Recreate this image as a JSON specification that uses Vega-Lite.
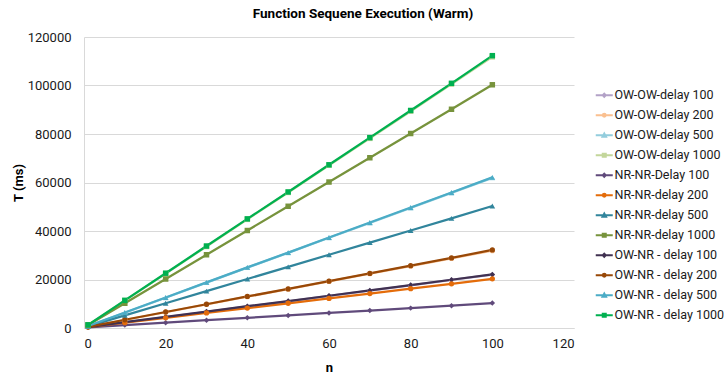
{
  "$schema": "https://vega.github.io/schema/vega-lite/v6.json",
  "width": 490,
  "height": 291,
  "autosize": {"type": "none"},
  "padding": {"left": 84, "top": 37, "right": 152, "bottom": 56},
  "background": "white",
  "title": {"text": "Function Sequene Execution (Warm)", "font": "Roboto", "fontSize": 13.5, "fontWeight": "bold", "color": "#000000", "anchor": "middle", "frame": "group", "dx": 34, "offset": 11},
  "config": {
    "view": {"stroke": null},
    "font": "Roboto",
    "axis": {"labelFont": "Roboto", "labelFontSize": 13, "labelColor": "#1a1a1a", "titleFont": "Roboto", "titleFontSize": 13, "titleFontWeight": "bold", "titleColor": "#000000", "domainColor": "#D9D9D9", "gridColor": "#D9D9D9", "ticks": false},
    "legend": {"labelFont": "Roboto", "labelFontSize": 12.5, "labelColor": "#1a1a1a"}
  },
  "data": {"values": [
    {"series": "OW-OW-delay 100", "n": 1, "T": 350}, {"series": "OW-OW-delay 100", "n": 10, "T": 2300}, {"series": "OW-OW-delay 100", "n": 20, "T": 4500}, {"series": "OW-OW-delay 100", "n": 30, "T": 6700}, {"series": "OW-OW-delay 100", "n": 40, "T": 8900}, {"series": "OW-OW-delay 100", "n": 50, "T": 11000}, {"series": "OW-OW-delay 100", "n": 60, "T": 13200}, {"series": "OW-OW-delay 100", "n": 70, "T": 15400}, {"series": "OW-OW-delay 100", "n": 80, "T": 17600}, {"series": "OW-OW-delay 100", "n": 90, "T": 19800}, {"series": "OW-OW-delay 100", "n": 100, "T": 22000},
    {"series": "OW-OW-delay 200", "n": 1, "T": 450}, {"series": "OW-OW-delay 200", "n": 10, "T": 3300}, {"series": "OW-OW-delay 200", "n": 20, "T": 6500}, {"series": "OW-OW-delay 200", "n": 30, "T": 9700}, {"series": "OW-OW-delay 200", "n": 40, "T": 12900}, {"series": "OW-OW-delay 200", "n": 50, "T": 16000}, {"series": "OW-OW-delay 200", "n": 60, "T": 19200}, {"series": "OW-OW-delay 200", "n": 70, "T": 22400}, {"series": "OW-OW-delay 200", "n": 80, "T": 25500}, {"series": "OW-OW-delay 200", "n": 90, "T": 28700}, {"series": "OW-OW-delay 200", "n": 100, "T": 31900},
    {"series": "OW-OW-delay 500", "n": 1, "T": 750}, {"series": "OW-OW-delay 500", "n": 10, "T": 6300}, {"series": "OW-OW-delay 500", "n": 20, "T": 12500}, {"series": "OW-OW-delay 500", "n": 30, "T": 18700}, {"series": "OW-OW-delay 500", "n": 40, "T": 24900}, {"series": "OW-OW-delay 500", "n": 50, "T": 31000}, {"series": "OW-OW-delay 500", "n": 60, "T": 37200}, {"series": "OW-OW-delay 500", "n": 70, "T": 43300}, {"series": "OW-OW-delay 500", "n": 80, "T": 49500}, {"series": "OW-OW-delay 500", "n": 90, "T": 55700}, {"series": "OW-OW-delay 500", "n": 100, "T": 61900},
    {"series": "OW-OW-delay 1000", "n": 1, "T": 1250}, {"series": "OW-OW-delay 1000", "n": 10, "T": 11300}, {"series": "OW-OW-delay 1000", "n": 20, "T": 22400}, {"series": "OW-OW-delay 1000", "n": 30, "T": 33600}, {"series": "OW-OW-delay 1000", "n": 40, "T": 44800}, {"series": "OW-OW-delay 1000", "n": 50, "T": 55900}, {"series": "OW-OW-delay 1000", "n": 60, "T": 67100}, {"series": "OW-OW-delay 1000", "n": 70, "T": 78200}, {"series": "OW-OW-delay 1000", "n": 80, "T": 89400}, {"series": "OW-OW-delay 1000", "n": 90, "T": 100600}, {"series": "OW-OW-delay 1000", "n": 100, "T": 111800},
    {"series": "NR-NR-Delay 100", "n": 1, "T": 300}, {"series": "NR-NR-Delay 100", "n": 10, "T": 1200}, {"series": "NR-NR-Delay 100", "n": 20, "T": 2200}, {"series": "NR-NR-Delay 100", "n": 30, "T": 3200}, {"series": "NR-NR-Delay 100", "n": 40, "T": 4200}, {"series": "NR-NR-Delay 100", "n": 50, "T": 5200}, {"series": "NR-NR-Delay 100", "n": 60, "T": 6200}, {"series": "NR-NR-Delay 100", "n": 70, "T": 7200}, {"series": "NR-NR-Delay 100", "n": 80, "T": 8200}, {"series": "NR-NR-Delay 100", "n": 90, "T": 9200}, {"series": "NR-NR-Delay 100", "n": 100, "T": 10300},
    {"series": "NR-NR-delay 200", "n": 1, "T": 400}, {"series": "NR-NR-delay 200", "n": 10, "T": 2200}, {"series": "NR-NR-delay 200", "n": 20, "T": 4200}, {"series": "NR-NR-delay 200", "n": 30, "T": 6200}, {"series": "NR-NR-delay 200", "n": 40, "T": 8200}, {"series": "NR-NR-delay 200", "n": 50, "T": 10200}, {"series": "NR-NR-delay 200", "n": 60, "T": 12200}, {"series": "NR-NR-delay 200", "n": 70, "T": 14200}, {"series": "NR-NR-delay 200", "n": 80, "T": 16200}, {"series": "NR-NR-delay 200", "n": 90, "T": 18200}, {"series": "NR-NR-delay 200", "n": 100, "T": 20300},
    {"series": "NR-NR-delay 500", "n": 1, "T": 700}, {"series": "NR-NR-delay 500", "n": 10, "T": 5200}, {"series": "NR-NR-delay 500", "n": 20, "T": 10200}, {"series": "NR-NR-delay 500", "n": 30, "T": 15200}, {"series": "NR-NR-delay 500", "n": 40, "T": 20200}, {"series": "NR-NR-delay 500", "n": 50, "T": 25200}, {"series": "NR-NR-delay 500", "n": 60, "T": 30200}, {"series": "NR-NR-delay 500", "n": 70, "T": 35200}, {"series": "NR-NR-delay 500", "n": 80, "T": 40200}, {"series": "NR-NR-delay 500", "n": 90, "T": 45200}, {"series": "NR-NR-delay 500", "n": 100, "T": 50300},
    {"series": "NR-NR-delay 1000", "n": 1, "T": 1200}, {"series": "NR-NR-delay 1000", "n": 10, "T": 10200}, {"series": "NR-NR-delay 1000", "n": 20, "T": 20200}, {"series": "NR-NR-delay 1000", "n": 30, "T": 30200}, {"series": "NR-NR-delay 1000", "n": 40, "T": 40200}, {"series": "NR-NR-delay 1000", "n": 50, "T": 50200}, {"series": "NR-NR-delay 1000", "n": 60, "T": 60200}, {"series": "NR-NR-delay 1000", "n": 70, "T": 70200}, {"series": "NR-NR-delay 1000", "n": 80, "T": 80200}, {"series": "NR-NR-delay 1000", "n": 90, "T": 90200}, {"series": "NR-NR-delay 1000", "n": 100, "T": 100300},
    {"series": "OW-NR - delay 100", "n": 1, "T": 400}, {"series": "OW-NR - delay 100", "n": 10, "T": 2400}, {"series": "OW-NR - delay 100", "n": 20, "T": 4600}, {"series": "OW-NR - delay 100", "n": 30, "T": 6800}, {"series": "OW-NR - delay 100", "n": 40, "T": 9000}, {"series": "OW-NR - delay 100", "n": 50, "T": 11100}, {"series": "OW-NR - delay 100", "n": 60, "T": 13300}, {"series": "OW-NR - delay 100", "n": 70, "T": 15500}, {"series": "OW-NR - delay 100", "n": 80, "T": 17700}, {"series": "OW-NR - delay 100", "n": 90, "T": 19900}, {"series": "OW-NR - delay 100", "n": 100, "T": 22100},
    {"series": "OW-NR - delay 200", "n": 1, "T": 500}, {"series": "OW-NR - delay 200", "n": 10, "T": 3400}, {"series": "OW-NR - delay 200", "n": 20, "T": 6600}, {"series": "OW-NR - delay 200", "n": 30, "T": 9800}, {"series": "OW-NR - delay 200", "n": 40, "T": 13000}, {"series": "OW-NR - delay 200", "n": 50, "T": 16100}, {"series": "OW-NR - delay 200", "n": 60, "T": 19300}, {"series": "OW-NR - delay 200", "n": 70, "T": 22500}, {"series": "OW-NR - delay 200", "n": 80, "T": 25700}, {"series": "OW-NR - delay 200", "n": 90, "T": 28900}, {"series": "OW-NR - delay 200", "n": 100, "T": 32200},
    {"series": "OW-NR - delay 500", "n": 1, "T": 800}, {"series": "OW-NR - delay 500", "n": 10, "T": 6400}, {"series": "OW-NR - delay 500", "n": 20, "T": 12600}, {"series": "OW-NR - delay 500", "n": 30, "T": 18800}, {"series": "OW-NR - delay 500", "n": 40, "T": 25000}, {"series": "OW-NR - delay 500", "n": 50, "T": 31100}, {"series": "OW-NR - delay 500", "n": 60, "T": 37300}, {"series": "OW-NR - delay 500", "n": 70, "T": 43500}, {"series": "OW-NR - delay 500", "n": 80, "T": 49700}, {"series": "OW-NR - delay 500", "n": 90, "T": 55900}, {"series": "OW-NR - delay 500", "n": 100, "T": 62100},
    {"series": "OW-NR - delay 1000", "n": 1, "T": 1300}, {"series": "OW-NR - delay 1000", "n": 10, "T": 11400}, {"series": "OW-NR - delay 1000", "n": 20, "T": 22600}, {"series": "OW-NR - delay 1000", "n": 30, "T": 33800}, {"series": "OW-NR - delay 1000", "n": 40, "T": 45000}, {"series": "OW-NR - delay 1000", "n": 50, "T": 56100}, {"series": "OW-NR - delay 1000", "n": 60, "T": 67300}, {"series": "OW-NR - delay 1000", "n": 70, "T": 78500}, {"series": "OW-NR - delay 1000", "n": 80, "T": 89700}, {"series": "OW-NR - delay 1000", "n": 90, "T": 100900}, {"series": "OW-NR - delay 1000", "n": 100, "T": 112300}
  ]},
  "encoding": {
    "x": {"field": "n", "type": "quantitative", "scale": {"domain": [0, 120], "nice": false}, "axis": {"values": [0, 20, 40, 60, 80, 100, 120], "grid": false, "labelPadding": 9, "title": "n", "titleY": 39, "titleBaseline": "middle"}},
    "y": {"field": "T", "type": "quantitative", "scale": {"domain": [0, 120000], "nice": false}, "axis": {"values": [0, 20000, 40000, 60000, 80000, 100000, 120000], "format": "d", "grid": true, "labelPadding": 13, "title": "T (ms)", "titleX": -66, "titleY": 145.5, "titleAngle": -90, "titleAlign": "center", "titleBaseline": "middle"}},
    "fill": {"field": "series", "type": "nominal", "legend": null,
      "scale": {
        "domain": ["OW-OW-delay 100", "OW-OW-delay 200", "OW-OW-delay 500", "OW-OW-delay 1000", "NR-NR-Delay 100", "NR-NR-delay 200", "NR-NR-delay 500", "NR-NR-delay 1000", "OW-NR - delay 100", "OW-NR - delay 200", "OW-NR - delay 500", "OW-NR - delay 1000"],
        "range": ["#B3A2C7", "#FAC090", "#93CDDD", "#C3D69B", "#604A7B", "#E46C0A", "#31859C", "#77933C", "#403151", "#984807", "#4BACC6", "#00B050"]
      }
    }
  },
  "layer": [
    {
      "mark": {"type": "line", "strokeWidth": 2.25},
      "encoding": {
        "fill": null,
        "color": {"field": "series", "type": "nominal",
          "scale": {
            "domain": ["OW-OW-delay 100", "OW-OW-delay 200", "OW-OW-delay 500", "OW-OW-delay 1000", "NR-NR-Delay 100", "NR-NR-delay 200", "NR-NR-delay 500", "NR-NR-delay 1000", "OW-NR - delay 100", "OW-NR - delay 200", "OW-NR - delay 500", "OW-NR - delay 1000"],
            "range": ["#B3A2C7", "#FAC090", "#93CDDD", "#C3D69B", "#604A7B", "#E46C0A", "#31859C", "#77933C", "#403151", "#984807", "#4BACC6", "#00B050"]
          },
          "legend": {
            "title": null,
            "orient": "none",
            "legendX": 514,
            "legendY": 52,
            "padding": 0,
            "symbolSize": 100,
            "labelOffset": 4,
            "rowPadding": 7,
            "labelLimit": 200,
            "symbolStrokeWidth": 2,
            "encode": {
              "symbols": {
                "update": {
                  "shape": {"signal": "indexof(datum.value,'1000')>=0 ? 'M-1.7,0H1.7M-0.3,-0.3H0.3V0.3H-0.3Z' : indexof(datum.value,'500')>=0 ? 'M-1.7,0H1.7M0,-0.35L0.35,0.28H-0.35Z' : indexof(datum.value,'200')>=0 ? 'M-1.7,0H1.7M-0.28,0A0.28,0.28 0 1,0 0.28,0A0.28,0.28 0 1,0 -0.28,0Z' : 'M-1.7,0H1.7M0,-0.3L0.3,0L0,0.3L-0.3,0Z'"},
                  "stroke": {"scale": "color", "field": "value"},
                  "fill": {"scale": "color", "field": "value"},
                  "strokeWidth": {"value": 2},
                  "opacity": {"value": 1}
                }
              }
            }
          }
        }
      }
    },
    {
      "transform": [{"filter": "test(/ 100$/, datum.series)"}],
      "mark": {"type": "point", "shape": "diamond", "filled": true, "size": 30, "opacity": 1, "strokeWidth": 0}
    },
    {
      "transform": [{"filter": "test(/ 200$/, datum.series)"}],
      "mark": {"type": "point", "shape": "circle", "filled": true, "size": 28, "opacity": 1, "strokeWidth": 0}
    },
    {
      "transform": [{"filter": "test(/ 500$/, datum.series)"}],
      "mark": {"type": "point", "shape": "triangle-up", "filled": true, "size": 32, "opacity": 1, "strokeWidth": 0}
    },
    {
      "transform": [{"filter": "test(/ 1000$/, datum.series)"}],
      "mark": {"type": "point", "shape": "square", "filled": true, "size": 30, "opacity": 1, "strokeWidth": 0}
    }
  ]
}
